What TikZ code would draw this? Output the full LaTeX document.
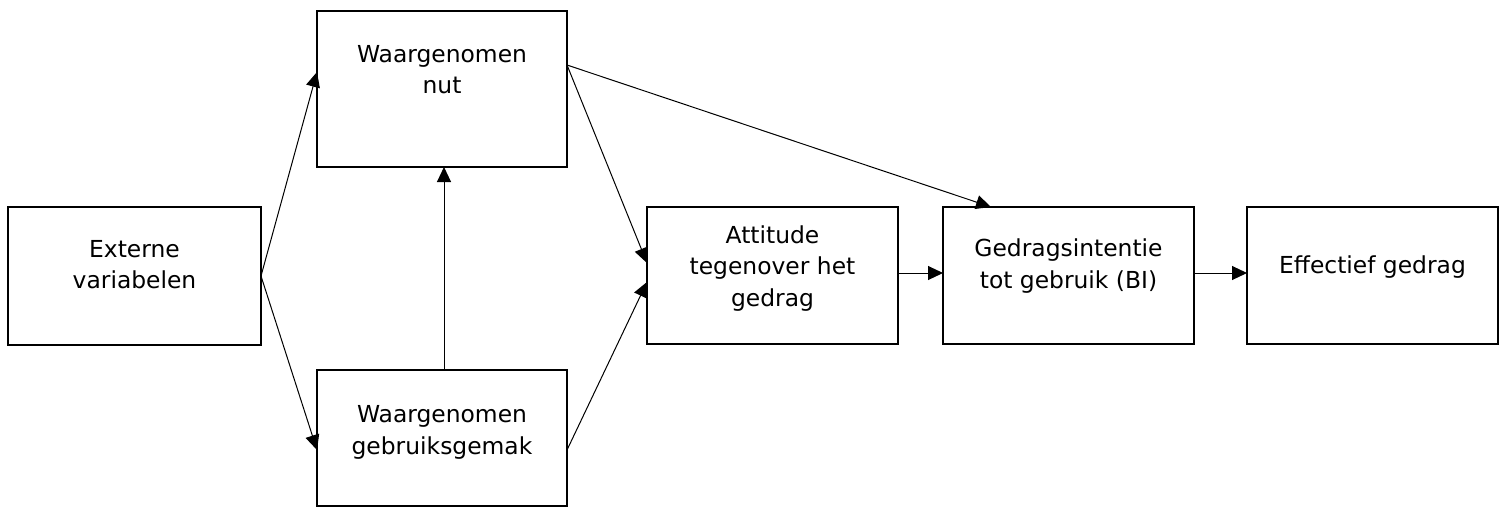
\documentclass[tikz,border=0pt]{standalone}
\usepackage{fontspec}
\setmainfont{DejaVu Sans}
\usetikzlibrary{arrows.meta}

% box text: total height #1, width #2, extra space #3 below the text (lifts it by #3/2)
\newcommand\boxlines[4]{%
  \parbox[c][#1][c]{#2}{\centering\fontsize{23.4pt}{31.5pt}\selectfont #4\par\vspace*{#3}}}

\tikzset{
  stage/.style={draw, line width=2pt, inner sep=0pt, outer sep=0pt},
  link/.style={line width=1pt, -{Triangle[length=15pt,width=14pt]}},
}

\begin{document}
\begin{tikzpicture}[x=1pt, y=-1pt]
  \useasboundingbox (0,0) rectangle (1503,507);

  % stages of the model
  \node[stage] (ext) at (134.5,276)   {\boxlines{138pt}{253pt}{23pt}{Externe\\variabelen}};
  \node[stage] (nut) at (442,89)      {\boxlines{156pt}{250pt}{39pt}{Waargenomen\\nut}};
  \node[stage] (gem) at (442,438)     {\boxlines{136pt}{250pt}{11pt}{Waargenomen\\gebruiksgemak}};
  \node[stage] (att) at (772.5,275.5) {\boxlines{137pt}{251pt}{14pt}{Attitude\\tegenover het\\gedrag}};
  \node[stage] (bi)  at (1068.5,275.5){\boxlines{137pt}{251pt}{19pt}{Gedragsintentie\\tot gebruik (BI)}};
  \node[stage] (eff) at (1372.5,275.5){\boxlines{137pt}{251pt}{16pt}{Effectief gedrag}};

  % influences
  \draw[link] (ext.east) -- ([yshift=17pt]nut.west);
  \draw[link] (ext.east) -- ([yshift=-12pt]gem.west);
  \draw[link] ([xshift=2pt]gem.north) -- ([xshift=2pt]nut.south);
  \draw[link] ([yshift=24pt]nut.east) -- ([yshift=12.5pt]att.west);
  \draw[link] ([yshift=24pt]nut.east) -- ([xshift=-77.5pt]bi.north);
  \draw[link] ([yshift=-12pt]gem.east) -- ([yshift=-6.5pt]att.west);
  \draw[link] ([yshift=2.5pt]att.east) -- ([yshift=2.5pt]bi.west);
  \draw[link] ([yshift=2.5pt]bi.east) -- ([yshift=2.5pt]eff.west);
\end{tikzpicture}
\end{document}
